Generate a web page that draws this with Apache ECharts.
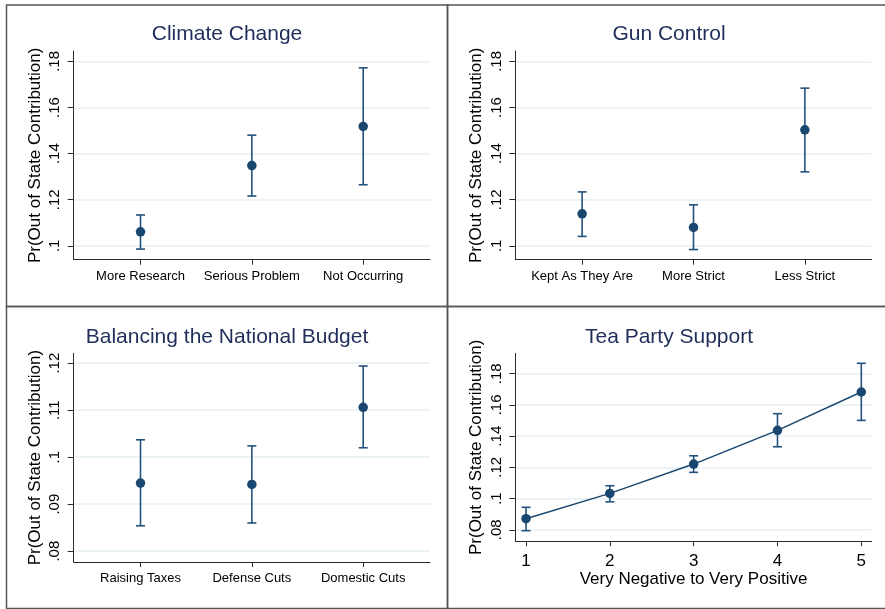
<!DOCTYPE html>
<html>
<head>
<meta charset="utf-8">
<script src="https://cdn.jsdelivr.net/npm/echarts@6.0.0/dist/echarts.min.js"></script>
<style>
html,body{margin:0;padding:0;background:#fff;}
#chart{width:885px;height:609px;}
</style>
</head>
<body>
<div id="chart"></div>
<script>
// ---- data ----
const titles = ['Climate Change', 'Gun Control', 'Balancing the National Budget', 'Tea Party Support'];
const yTitle = 'Pr(Out of State Contribution)';

const climateCats = ['More Research', 'Serious Problem', 'Not Occurring'];
const climateEst = [0.1061, 0.1348, 0.1518];
const climateLo  = [0.0986, 0.1216, 0.1265];
const climateHi  = [0.1134, 0.1480, 0.1772];

const gunCats = ['Kept As They Are', 'More Strict', 'Less Strict'];
const gunEst = [0.1139, 0.1080, 0.1503];
const gunLo  = [0.1041, 0.0984, 0.1321];
const gunHi  = [0.1234, 0.1178, 0.1684];

const budgetCats = ['Raising Taxes', 'Defense Cuts', 'Domestic Cuts'];
const budgetEst = [0.0945, 0.0942, 0.1106];
const budgetLo  = [0.0854, 0.0860, 0.1020];
const budgetHi  = [0.1037, 0.1024, 0.1194];

const teaX   = [1, 2, 3, 4, 5];
const teaEst = [0.0871, 0.1033, 0.1221, 0.1437, 0.1683];
const teaLo  = [0.0794, 0.0979, 0.1168, 0.1332, 0.1501];
const teaHi  = [0.0944, 0.1082, 0.1274, 0.1544, 0.1867];
const teaXTitle = 'Very Negative to Very Positive';

const topTicks    = [0.10, 0.12, 0.14, 0.16, 0.18];
const budgetTicks = [0.08, 0.09, 0.10, 0.11, 0.12];
const teaTicks    = [0.08, 0.10, 0.12, 0.14, 0.16, 0.18];

// ---- styles ----
const NAVY = '#1a476f';
const BAR = '#23527d';
const TITLE_C = '#1f2d5a';
const AXIS_C = '#2b2b2b';
const GRID_C = '#e6eff1';
const FONT = 'Liberation Sans, Arial, Helvetica, sans-serif';

function fmtY(v) {
  let s = (Math.round(v * 100) / 100).toFixed(2);
  s = s.replace(/^0/, '');
  s = s.replace(/0$/, '');
  return s;
}

const panels = [
  { cats: climateCats, est: climateEst, lo: climateLo, hi: climateHi, ticks: topTicks, ymin: 0.0940, ymax: 0.1845,
    grid: { left: 73.7, top: 51, width: 356.3, height: 208.7 }, title: { x: 227, y: 24 } },
  { cats: gunCats, est: gunEst, lo: gunLo, hi: gunHi, ticks: topTicks, ymin: 0.0940, ymax: 0.1845,
    grid: { left: 515.3, top: 51, width: 356.4, height: 208.7 }, title: { x: 669, y: 24 } },
  { cats: budgetCats, est: budgetEst, lo: budgetLo, hi: budgetHi, ticks: budgetTicks, ymin: 0.0777, ymax: 0.1221,
    grid: { left: 73.7, top: 353.3, width: 356.3, height: 208.7 }, title: { x: 227, y: 327 } },
  { cats: null, xs: teaX, est: teaEst, lo: teaLo, hi: teaHi, ticks: teaTicks, ymin: 0.0726, ymax: 0.1931,
    grid: { left: 515.3, top: 353.3, width: 356.4, height: 188 }, title: { x: 669, y: 327 } }
];

const option = {
  backgroundColor: '#fff',
  animation: false,
  title: [], grid: [], xAxis: [], yAxis: [], series: [],
  graphic: [
    { type: 'rect', shape: { x: 6.5, y: 5, width: 441, height: 301.5 }, style: { fill: 'none', stroke: '#555', lineWidth: 1.5 }, silent: true },
    { type: 'rect', shape: { x: 447.5, y: 5, width: 443, height: 301.5 }, style: { fill: 'none', stroke: '#555', lineWidth: 1.5 }, silent: true },
    { type: 'rect', shape: { x: 6.5, y: 306.5, width: 441, height: 302 }, style: { fill: 'none', stroke: '#555', lineWidth: 1.5 }, silent: true },
    { type: 'rect', shape: { x: 447.5, y: 306.5, width: 443, height: 302 }, style: { fill: 'none', stroke: '#555', lineWidth: 1.5 }, silent: true }
  ]
};

panels.forEach((p, i) => {
  option.title.push({
    text: titles[i], left: p.title.x, top: p.title.y, textAlign: 'center', padding: 0,
    textStyle: { color: TITLE_C, fontSize: 21, fontWeight: 'normal', fontFamily: FONT }
  });
  option.grid.push(Object.assign({ containLabel: false }, p.grid));
  const isTea = !p.cats;
  const xs = isTea ? p.xs : p.cats.map((c, k) => k + 1);
  option.xAxis.push({
    type: 'value', gridIndex: i,
    min: isTea ? 0.872 : 0.4, max: isTea ? 5.124 : 3.6,
    name: isTea ? teaXTitle : '', nameLocation: 'middle', nameGap: 29,
    nameTextStyle: { color: '#000', fontSize: 17, fontFamily: FONT },
    axisLine: { show: true, lineStyle: { color: AXIS_C, width: 1 } },
    axisTick: { show: true, length: 5, inside: false, customValues: xs, lineStyle: { color: AXIS_C, width: 1 } },
    axisLabel: {
      show: true, customValues: xs, margin: isTea ? 12 : 10,
      color: '#000', fontSize: isTea ? 17 : 13, fontFamily: FONT,
      formatter: v => isTea ? String(v) : p.cats[Math.round(v) - 1]
    },
    splitLine: { show: false }
  });
  option.yAxis.push({
    type: 'value', gridIndex: i, min: p.ymin, max: p.ymax,
    name: yTitle, nameLocation: 'middle', nameGap: 30,
    nameTextStyle: { color: '#000', fontSize: 17, fontFamily: FONT },
    axisLine: { show: true, lineStyle: { color: AXIS_C, width: 1 } },
    axisTick: { show: true, length: 6, inside: false, customValues: p.ticks, lineStyle: { color: AXIS_C, width: 1 } },
    axisLabel: { show: true, customValues: p.ticks, rotate: 90, margin: 11, color: '#000', fontSize: 15, fontFamily: FONT, formatter: fmtY },
    splitLine: { show: true, lineStyle: { color: GRID_C, width: 1.5 } }
  });
  const bars = xs.map((x, k) => [x, p.lo[k], p.hi[k]]);
  option.series.push({
    type: 'custom', xAxisIndex: i, yAxisIndex: i, data: bars, z: 3,
    renderItem: (params, api) => {
      const x = api.value(0), lo = api.value(1), hi = api.value(2);
      const a = api.coord([x, lo]), b = api.coord([x, hi]);
      const hw = 4.5;
      const st = { stroke: BAR, lineWidth: 1.6 };
      return { type: 'group', children: [
        { type: 'line', shape: { x1: a[0], y1: a[1], x2: b[0], y2: b[1] }, style: st },
        { type: 'line', shape: { x1: a[0] - hw, y1: a[1], x2: a[0] + hw, y2: a[1] }, style: st },
        { type: 'line', shape: { x1: b[0] - hw, y1: b[1], x2: b[0] + hw, y2: b[1] }, style: st }
      ] };
    }
  });
  option.series.push({
    type: isTea ? 'line' : 'scatter', xAxisIndex: i, yAxisIndex: i, z: 4,
    data: xs.map((x, k) => [x, p.est[k]]),
    symbol: 'circle', symbolSize: 9.5, showSymbol: true,
    itemStyle: { color: NAVY, opacity: 1 },
    lineStyle: { color: NAVY, width: 1.5 }
  });
});

const chart = echarts.init(document.getElementById('chart'), null, { renderer: 'canvas' });
chart.setOption(option);
</script>
</body>
</html>
